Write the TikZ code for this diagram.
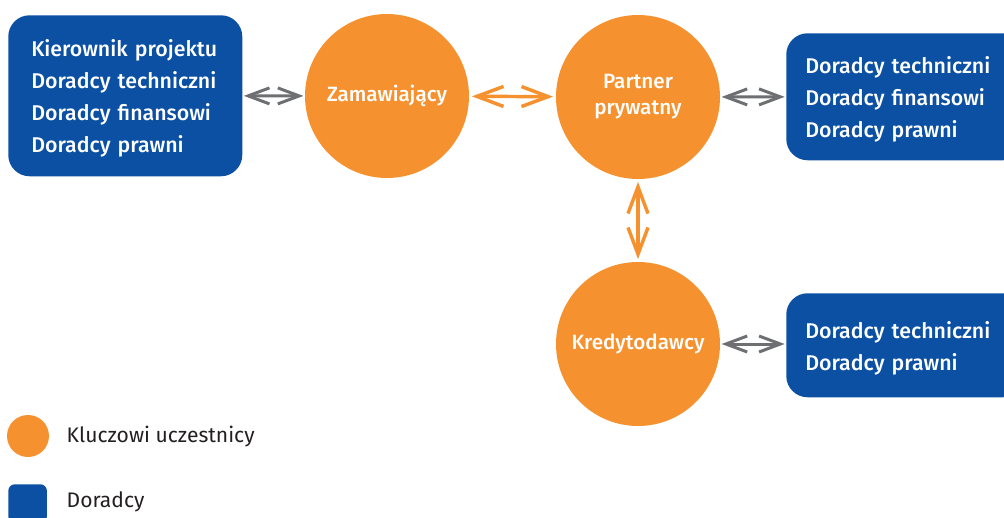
\documentclass[tikz,border=0pt]{standalone}
\usepackage{fontspec}
\setmainfont{Fira Sans}
\newfontfamily\medfont{Fira Sans Medium}
\usepackage{xcolor}
\usetikzlibrary{arrows.meta}
\usetikzlibrary{positioning}
\definecolor{orng}{RGB}{245,146,47}
\definecolor{blu}{RGB}{11,80,163}
\definecolor{gry}{RGB}{109,111,114}
\definecolor{txt}{RGB}{35,31,32}

\tikzset{
	player/.style={circle,fill=orng,minimum size=123pt,inner sep=0pt,text=white,align=center,font=\medfont\fontsize{15.5}{19.5}\selectfont},
	advisor/.style={fill=blu,rounded corners=16pt,text=white,align=left,inner ysep=0pt,text height=17pt,font=\medfont\fontsize{16}{24}\selectfont},
	legendtext/.style={text=txt,font=\fontsize{15.8}{18}\selectfont},
	grylink/.style={draw=gry,line width=2.25pt,{Straight Barb[length=16pt,width=12pt]}-{Straight Barb[length=16pt,width=12pt]},shorten <=1pt,shorten >=1pt},
	orglink/.style={draw=orng,line width=2.6pt,{Straight Barb[length=20pt,width=15pt]}-{Straight Barb[length=20pt,width=15pt]},shorten <=2pt,shorten >=2pt}
}

\begin{document}
\begin{tikzpicture}[x=0.75pt,y=-0.75pt]
	\useasboundingbox (0,0) rectangle (1004,518);
	
	% key participants
	\node [player] (zam) at (387,96) {Zamawiający};
	\node [player] (partner) at (638,97) {Partner\\prywatny};
	\node [player] (kred) at (638,344) {Kredytodawcy};
	
	% advisors
	\node [advisor,anchor=north west,text width=141pt,inner xsep=17.25pt,minimum height=120.75pt] (advzam) at (8,15) {Kierownik projektu\\Doradcy techniczni\\Doradcy finansowi\\Doradcy prawni};
	\node [advisor,anchor=north west,text width=150pt,inner xsep=14.25pt,minimum height=95.25pt] (advpartner) at (786,33) {Doradcy techniczni\\Doradcy finansowi\\Doradcy prawni};
	\node [advisor,anchor=north west,text width=150pt,inner xsep=14.25pt,minimum height=78pt] (advkred) at (786,293) {Doradcy techniczni\\Doradcy prawni};
	
	\draw [grylink] (advzam) -- (zam);
	\draw [orglink] (zam) -- (partner);
	\draw [grylink] (partner) -- (advpartner);
	\draw [orglink] (partner) -- (kred);
	\draw [grylink] (kred.east) -- (kred.east -| advkred.west);
	
	% legend
	\node [circle,fill=orng,minimum size=31.5pt,inner sep=0pt] (legplayer) at (28,436) {};
	\node [fill=blu,rounded corners=5pt,minimum size=29pt,inner sep=0pt,anchor=north west] (legadvisor) at (8,484) {};
	\node [legendtext,anchor=west] (legplayertext) at (62,437) {Kluczowi uczestnicy};
	\node [legendtext,anchor=west] (legadvisortext) at (62,502) {Doradcy};
\end{tikzpicture}
\end{document}
